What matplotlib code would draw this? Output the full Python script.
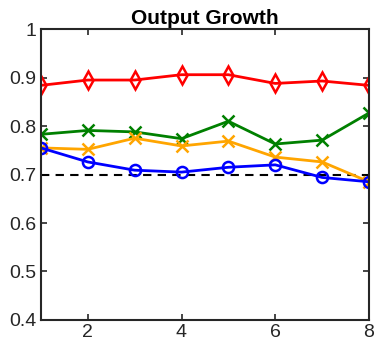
import matplotlib.pyplot as plt

# Data
periods = [1, 2, 3, 4, 5, 6, 7, 8]
red_vals = [0.884, 0.895, 0.895, 0.906, 0.906, 0.888, 0.893, 0.884]
green_vals = [0.783, 0.791, 0.788, 0.774, 0.810, 0.763, 0.771, 0.827]
orange_vals = [0.755, 0.752, 0.775, 0.759, 0.769, 0.736, 0.726, 0.685]
blue_vals = [0.755, 0.726, 0.709, 0.705, 0.715, 0.720, 0.694, 0.685]
threshold = 0.7

plt.rcParams['font.family'] = ['Liberation Sans', 'DejaVu Sans']

fig = plt.figure(figsize=(3.75, 3.47), dpi=100)
ax = fig.add_axes([0.109, 0.078, 0.875, 0.838])

ax.axhline(threshold, color='black', linestyle=(0, (4, 3)), linewidth=1.5)
ax.plot(periods, red_vals, color='#FF0000', marker='d', markersize=9,
        markerfacecolor='none', markeredgewidth=1.8, linewidth=2)
ax.plot(periods, green_vals, color='#008000', marker='x', markersize=8,
        markeredgewidth=1.8, linewidth=2)
ax.plot(periods, orange_vals, color='#FFA500', marker='x', markersize=8,
        markeredgewidth=1.8, linewidth=2)
ax.plot(periods, blue_vals, color='#0000FF', marker='o', markersize=8,
        markerfacecolor='none', markeredgewidth=1.8, linewidth=2)

ax.set_xlim(1, 8)
ax.set_ylim(0.4, 1)
ax.set_xticks([2, 4, 6, 8])
ax.set_yticks([0.4, 0.5, 0.6, 0.7, 0.8, 0.9, 1])
ax.set_yticklabels(['0.4', '0.5', '0.6', '0.7', '0.8', '0.9', '1'])
ax.tick_params(direction='in', top=True, right=True, labelsize=14,
               colors='#262626', length=4, width=1.2, pad=3)
for s in ax.spines.values():
    s.set_color('#262626')
    s.set_linewidth(1.5)
ax.set_title('Output Growth', fontsize=15, fontweight='bold', pad=4)

fig.savefig('out.png', dpi=100)
